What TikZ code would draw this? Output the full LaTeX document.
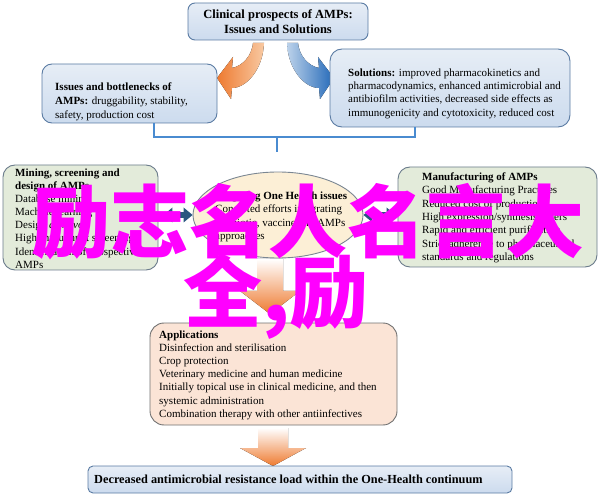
\documentclass[tikz,border=0pt]{standalone}
\usepackage{fontspec}
\setmainfont{Liberation Serif}
\newfontfamily\cjkfont{Noto Sans CJK SC}
\usetikzlibrary{arrows.meta,calc,shapes.geometric}
\definecolor{bluefill}{HTML}{DCE6F2}
\definecolor{bluefillB}{HTML}{CCDBEE}
\definecolor{blueline}{HTML}{5A7BA3}
\definecolor{greenfill}{HTML}{E3EBDA}
\definecolor{greenline}{HTML}{6B7B8B}
\definecolor{ellfill}{HTML}{FCEFD6}
\definecolor{ellline}{HTML}{7A8692}
\definecolor{appfill}{HTML}{FBE4D6}
\definecolor{appline}{HTML}{707070}
\definecolor{darkblue}{HTML}{28557F}
\definecolor{bracecol}{HTML}{4A8BD0}
\definecolor{orDark}{HTML}{EE7A30}
\definecolor{orLight}{HTML}{F8C9A2}
\definecolor{blDark}{HTML}{2268B8}
\definecolor{blLight}{HTML}{BCD2EA}
\definecolor{wmcol}{HTML}{FF00FF}
\begin{document}
\begin{tikzpicture}[x=1pt,y=-1pt,
  bluebox/.style={draw=blueline, line width=0.9pt, top color=bluefill!70!white, bottom color=bluefillB, rounded corners=10pt, inner sep=0pt},
  greenbox/.style={draw=greenline, line width=0.9pt, fill=greenfill, rounded corners=12pt, inner sep=0pt},
  appbox/.style={draw=appline, line width=0.9pt, fill=appfill, rounded corners=14pt, inner sep=0pt},
  txt/.style={align=left, inner sep=0pt, anchor=base west, text=black},
  dblarrow/.style={line width=6pt, draw=darkblue, {Triangle[length=9pt,width=15pt,line width=0pt]}-{Triangle[length=9pt,width=15pt,line width=0pt]}},
  brace/.style={draw=bracecol, line width=2.6pt},
  wm/.style={anchor=base west, inner sep=0pt, text=wmcol, font=\cjkfont\bfseries\fontsize{79}{79}\selectfont}
]
\useasboundingbox (0,0) rectangle (600,497);

% top box
\node[bluebox, rounded corners=7pt, minimum width=180pt, minimum height=37pt, align=center,
      font=\bfseries\fontsize{12.5}{14.5}\selectfont] (top) at (278,21.5) {Clinical prospects of AMPs:\\Issues and Solutions};

% curved arrows
\fill[left color=orDark, right color=orLight] (264,43) .. controls (263,70) and (246,88) .. (232,88) -- (231,99) -- (217,78) -- (233,57) -- (232,68) .. controls (243,66) and (252,55) .. (253,43) -- cycle;
\fill[left color=blLight, right color=blDark] (287,43) .. controls (288,70) and (305,88) .. (319,88) -- (320,99) -- (334,78) -- (318,57) -- (319,68) .. controls (308,66) and (299,55) .. (298,43) -- cycle;

% issues and solutions (base anchor = baseline of the last line)
\node[bluebox, minimum width=175pt, minimum height=59pt] (issues) at (129.5,93.5) {};
\node[txt, font=\fontsize{11}{14}\selectfont] (issuesT) at (55,118.5)
  {\textbf{Issues and bottlenecks of}\\\textbf{AMPs:} druggability, stability,\\safety, production cost};
\node[bluebox, rounded corners=12pt, minimum width=240pt, minimum height=78pt] (solutions) at (450,88) {};
\node[txt, font=\fontsize{11}{13.2}\selectfont] (solutionsT) at (348,116.1)
  {\textbf{Solutions:} improved pharmacokinetics and\\pharmacodynamics, enhanced antimicrobial and\\antibiofilm activities, decreased side effects as\\immunogenicity and cytotoxicity, reduced cost};

% brace
\coordinate (bmid) at (277,137);
\coordinate (bend) at (277,152);
\draw[brace] ([xshift=24.5pt]issues.south) |- (bmid) -| ([xshift=-35pt]solutions.south);
\draw[brace] (bmid) -- (bend);

% middle row
\node[greenbox, minimum width=155pt, minimum height=105pt] (mining) at (80.5,217.5) {};
\node[txt, font=\fontsize{11}{13.1}\selectfont] (miningT) at (15,268.2)
  {\textbf{Mining, screening and}\\\textbf{design of AMPs}\\Database mining\\Machine learning\\Design \textit{de novo}\\High-throughput screening\\Identification of prospective\\AMPs};
\node[ellipse, draw=ellline, line width=0.9pt, fill=ellfill, minimum width=170pt, minimum height=86pt, inner sep=0pt] (ell) at (278,215) {};
\node[txt, font=\fontsize{11}{13.3}\selectfont] (ellT) at (215,239.4)
  {\textbf{Targeting One Health issues}\\Concerted efforts integrating\\antibiotic, vaccine and AMPs\\approaches};
\node[greenbox, minimum width=199pt, minimum height=100pt] (manu) at (497.5,217) {};
\node[txt, font=\fontsize{11}{13.3}\selectfont] (manuT) at (422,260.3)
  {\textbf{Manufacturing of AMPs}\\Good Manufacturing Practices\\Reduced cost of production\\High expression/synthesis others\\Rapid and efficient purification\\Strict adherence to pharmaceutical\\standards and regulations};

\draw[dblarrow] ($(mining.east |- ell.west)+(5,0)$) -- (ell.west);
\draw[dblarrow] (ell.east) -- ($(manu.west |- ell.east)+(-2,0)$);

% down arrow 1
\fill[top color=white, bottom color=orDark] (257,259) -- (283,259) -- (283,291) -- (300,291) -- (270,314) -- (240,291) -- (257,291) -- cycle;

% applications
\node[appbox, minimum width=247pt, minimum height=102pt] (app) at (273.5,374) {};
\node[txt, font=\fontsize{11}{13.1}\selectfont] (appT) at (159,417.1)
  {\textbf{Applications}\\Disinfection and sterilisation\\Crop protection\\Veterinary medicine and human medicine\\Initially topical use in clinical medicine, and then\\systemic administration\\Combination therapy with other antiinfectives};

% down arrow 2
\fill[top color=white, bottom color=orDark] (258,428) -- (288,428) -- (288,448) -- (306,448) -- (273,466) -- (240,448) -- (258,448) -- cycle;

% bottom box
\node[bluebox, rounded corners=5pt, minimum width=424pt, minimum height=27pt] (bottom) at (300,479.5) {};
\node[txt, font=\bfseries\fontsize{12.3}{14}\selectfont] (bottomT) at (94,483)
  {Decreased antimicrobial resistance load within the One-Health continuum};

% watermark
\node[wm] (wm1) at (31,251.5) {励志名人名言大};
\node[wm] (wm2) at (183,321) {全,励};
\end{tikzpicture}
\end{document}
